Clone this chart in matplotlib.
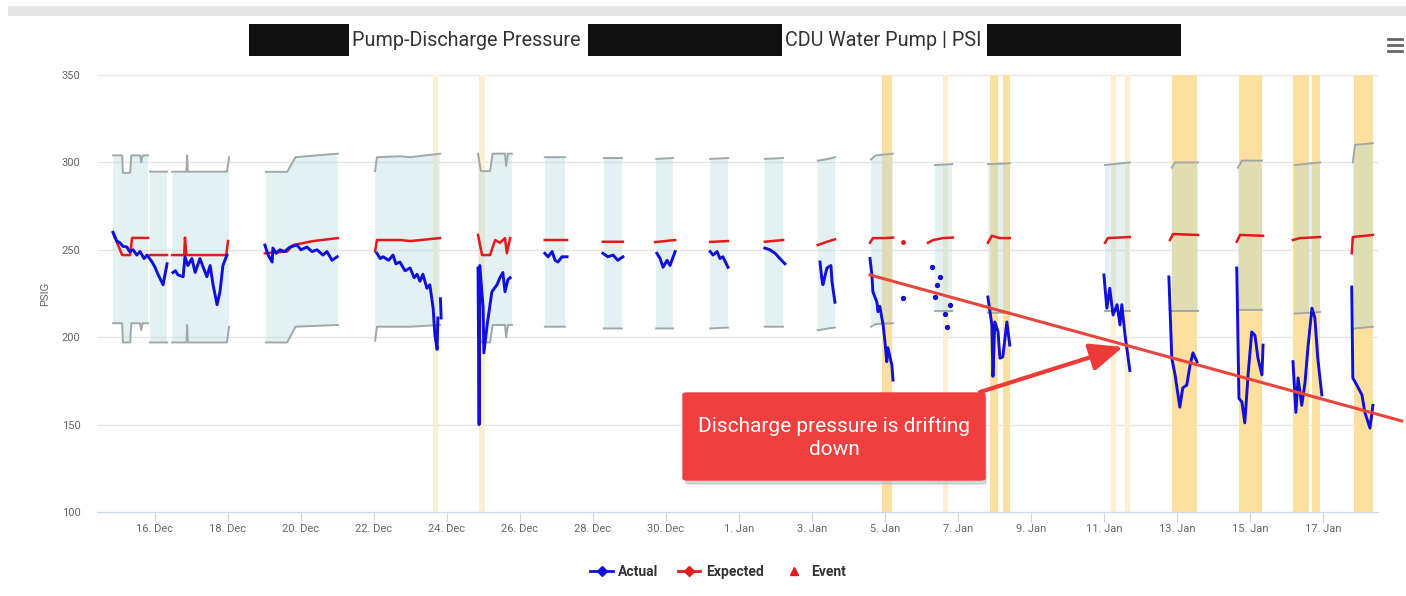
import matplotlib.pyplot as plt
import numpy as np
from matplotlib.lines import Line2D
from matplotlib.patches import Rectangle, FancyBboxPatch, FancyArrowPatch

plt.rcParams['font.family'] = ['Roboto', 'DejaVu Sans']

# time is "day of December" (32 = 1 Jan), values in PSIG
tick_days = [16, 18, 20, 22, 24, 26, 28, 30, 32, 34, 36, 38, 40, 42, 44, 46, 48]
tick_labels = ['16. Dec', '18. Dec', '20. Dec', '22. Dec', '24. Dec', '26. Dec', '28. Dec',
               '30. Dec', '1. Jan', '3. Jan', '5. Jan', '7. Jan', '9. Jan', '11. Jan',
               '13. Jan', '15. Jan', '17. Jan']

# (day, upper, lower) of the expected band
bounds = [
    [(14.85, 304, 208), (15.10, 304, 208), (15.12, 294, 197), (15.32, 294, 197), (15.35, 304, 208),
     (15.59, 304, 208), (15.62, 300, 204), (15.66, 304, 208), (15.81, 304, 208)],
    [(15.86, 294.7, 197), (16.33, 294.7, 197)],
    [(16.47, 294.7, 197), (16.86, 294.7, 197), (16.88, 304, 207), (16.90, 294.7, 197),
     (17.97, 294.7, 197), (18.03, 303, 206)],
    [(19.04, 294.6, 197), (19.62, 294.6, 197), (19.85, 303, 206), (21.01, 305, 207)],
    [(22.03, 295, 198), (22.08, 303, 206), (22.71, 303.5, 206), (23.00, 303, 206), (23.81, 305, 207)],
    [(24.85, 305, 207), (24.93, 295, 197), (25.18, 295, 197), (25.25, 305, 207), (25.59, 305, 207),
     (25.62, 298, 200), (25.67, 305, 207), (25.78, 305, 207)],
    [(26.68, 303, 206), (27.23, 303, 206)],
    [(28.30, 302.5, 205), (28.79, 302.5, 205)],
    [(29.73, 302, 205), (30.19, 302.5, 205)],
    [(31.21, 302, 205), (31.70, 302.5, 205.5)],
    [(32.71, 302, 206), (33.21, 302.5, 206)],
    [(34.16, 301, 204), (34.45, 302, 205), (34.63, 303, 205.5)],
    [(35.62, 301.7, 206), (35.75, 304, 207.5), (36.22, 305, 208)],
    [(37.37, 298.5, 215), (37.84, 299, 215)],
    [(38.82, 299, 214), (39.42, 299.5, 214)],
    [(42.03, 298.5, 215), (42.71, 300, 215)],
    [(43.86, 297, 215), (43.95, 300, 215), (44.58, 300, 215)],
    [(45.67, 297, 215.6), (45.78, 301, 215.6), (46.33, 301, 215.6)],
    [(47.23, 298.5, 213.5), (47.92, 300, 214.4)],
    [(48.82, 300, 204.7), (48.88, 310, 205), (49.37, 311, 206)],
]

expected = [
    [(14.85, 259.6), (15.10, 247), (15.32, 247), (15.37, 256.8), (15.81, 256.8)],
    [(15.86, 247), (16.33, 247)],
    [(16.47, 247), (16.80, 247), (16.82, 257), (16.86, 247), (17.95, 247), (18.00, 255)],
    [(19.01, 248), (19.62, 249), (19.78, 252.7), (20.33, 255), (21.01, 256.7)],
    [(22.03, 249), (22.08, 255.6), (22.71, 255.6), (23.00, 255), (23.81, 256.7)],
    [(24.85, 258.5), (24.96, 247), (25.18, 247), (25.32, 255.6), (25.45, 254), (25.59, 256.7),
     (25.64, 248), (25.73, 256.7)],
    [(26.68, 255.6), (27.29, 255.6)],
    [(28.27, 254.6), (28.82, 254.6)],
    [(29.70, 254.4), (30.25, 255.6)],
    [(31.21, 254.5), (31.70, 255)],
    [(32.71, 254.6), (33.21, 255.6)],
    [(34.16, 252.7), (34.41, 254.6), (34.63, 256)],
    [(35.59, 254), (35.67, 256.7), (36.00, 256.7), (36.22, 257)],
    [(37.18, 254), (37.32, 255.6), (37.59, 256.7), (37.86, 257)],
    [(38.82, 254), (38.93, 258), (39.15, 256.7), (39.42, 256.7)],
    [(42.03, 254), (42.11, 256.7), (42.71, 257.3)],
    [(43.81, 255.6), (43.89, 259), (44.58, 258.5)],
    [(45.64, 254.6), (45.73, 258.5), (46.36, 258)],
    [(47.18, 255.6), (47.37, 256.7), (47.92, 257.3)],
    [(48.79, 248), (48.82, 257.3), (49.37, 258.5)],
]
expected_dots = [(36.49, 254.6)]

actual = [
    [(14.85, 260), (14.95, 255), (15.04, 254), (15.12, 252), (15.23, 251.6), (15.30, 249), (15.40, 250),
     (15.50, 247), (15.59, 249), (15.70, 245), (15.78, 247), (15.92, 243), (16.00, 240), (16.08, 236),
     (16.22, 230), (16.33, 242)],
    [(16.49, 237), (16.56, 238), (16.63, 235.6), (16.77, 234.6), (16.82, 246), (16.90, 241), (17.01, 245),
     (17.10, 237), (17.23, 245), (17.32, 240), (17.42, 234.6), (17.51, 241), (17.59, 230),
     (17.70, 218.6), (17.78, 226), (17.86, 241), (17.97, 247)],
    [(19.01, 252.7), (19.10, 247), (19.21, 243), (19.23, 251), (19.32, 248), (19.42, 250), (19.55, 249),
     (19.70, 251.6), (19.89, 252.7), (20.00, 250), (20.16, 251.6), (20.30, 249), (20.44, 250),
     (20.60, 247), (20.71, 249), (20.85, 244), (20.99, 246)],
    [(22.08, 248), (22.17, 245), (22.25, 246), (22.40, 244), (22.52, 247), (22.60, 242), (22.71, 243),
     (22.85, 238), (22.99, 239.6), (23.10, 234), (23.18, 236), (23.26, 232), (23.34, 236),
     (23.45, 228), (23.53, 230), (23.62, 216.6), (23.67, 201), (23.73, 193), (23.75, 211)],
    [(23.82, 222), (23.84, 211)],
    [(24.85, 239.6), (24.88, 150), (24.90, 241), (24.99, 216.6), (25.01, 191), (25.10, 207),
     (25.23, 226), (25.37, 230), (25.45, 234), (25.53, 237), (25.59, 226), (25.67, 233), (25.73, 234)],
    [(26.68, 248), (26.77, 246), (26.88, 249), (26.96, 244), (27.04, 243), (27.15, 246), (27.29, 246)],
    [(28.27, 248), (28.41, 246), (28.55, 247), (28.68, 244), (28.82, 246)],
    [(29.75, 248), (29.84, 245), (29.92, 240), (30.03, 244), (30.11, 241), (30.25, 249)],
    [(31.21, 249), (31.29, 247), (31.40, 249), (31.48, 245), (31.56, 246), (31.70, 240)],
    [(32.71, 251), (32.85, 250), (32.99, 248), (33.12, 245), (33.26, 242)],
    [(34.22, 243), (34.27, 233.6), (34.30, 230), (34.41, 239.6), (34.52, 241), (34.55, 231.6), (34.63, 220)],
    [(35.59, 245), (35.64, 236), (35.67, 226), (35.78, 220), (35.81, 214.6), (35.86, 217.6),
     (35.95, 207), (36.00, 197.5), (36.05, 186), (36.08, 194), (36.19, 184), (36.22, 175.5)],
    [(38.82, 223), (38.93, 207), (38.96, 177.6), (39.01, 208.7), (39.10, 203), (39.15, 188),
     (39.23, 188.7), (39.34, 208.7), (39.42, 195.5)],
    [(42.00, 235.6), (42.08, 216.6), (42.16, 228), (42.25, 212.7), (42.36, 218.6), (42.44, 207),
     (42.49, 218.6), (42.58, 201), (42.71, 181)],
    [(43.78, 234.5), (43.86, 188), (43.95, 178.4), (44.08, 160), (44.16, 171), (44.27, 172.6),
     (44.36, 184), (44.44, 191), (44.55, 186)],
    [(45.64, 239.6), (45.70, 165), (45.78, 163), (45.86, 151), (45.95, 178.4), (46.05, 203),
     (46.14, 201), (46.22, 188), (46.33, 178.4), (46.36, 195.5)],
    [(47.18, 186), (47.26, 157), (47.32, 176.7), (47.42, 161), (47.51, 174), (47.59, 194),
     (47.70, 216.6), (47.78, 211), (47.86, 188), (47.97, 167)],
    [(48.79, 228.7), (48.82, 176.7), (48.93, 172.6), (49.07, 167), (49.15, 157), (49.29, 148), (49.37, 161)],
]
actual_dots = [(36.49, 222.5), (37.29, 240), (37.37, 223), (37.42, 230), (37.51, 234.6),
               (37.64, 213), (37.70, 206), (37.78, 218.6)]

# event windows (day start, day end)
events = [(35.92, 36.19), (38.88, 39.10), (39.23, 39.42), (43.86, 44.55), (45.70, 46.33),
          (47.18, 47.62), (47.70, 47.92), (48.85, 49.37)]
minor_events = [(23.62, 23.75), (24.88, 25.04), (37.59, 37.73), (42.19, 42.33), (42.58, 42.71)]

trend_days = [35.59, 50.16]
trend_vals = [235.6, 152.1]
arrow_from = (38.60, 168.6)
arrow_to = (42.52, 194.4)


def join(segs):
    rows = []
    for s in segs:
        rows.extend(s)
        rows.append(tuple([np.nan] * len(s[0])))
    return np.array(rows, dtype=float).T


W, H = 1406, 596
fig = plt.figure(figsize=(W / 100, H / 100), dpi=100)
ax = fig.add_axes([97 / W, 1 - 512 / H, 1281 / W, 437 / H])

for a, b in events:
    ax.axvspan(a, b, color='#fddfa0', lw=0, zorder=0.6)
for a, b in minor_events:
    ax.axvspan(a, b, color='#fdefd2', lw=0, zorder=0.6)

bt, bhi, blo = join(bounds)
ax.fill_between(bt, blo, bhi, color='#acd6dc', alpha=0.33, lw=0, zorder=1)
ax.plot(bt, bhi, color='#a0a8a8', lw=1.4, zorder=2)
ax.plot(bt, blo, color='#a0a8a8', lw=1.4, zorder=2)

et, ev = join(expected)
ax.plot(et, ev, color='#e3191c', lw=1.8, zorder=3)
ax.plot(*zip(*expected_dots), ls='none', marker='o', ms=2.5, color='#e3191c', zorder=3)

at, av = join(actual)
ax.plot(at, av, color='#1010d8', lw=2.1, zorder=4)
ax.plot(*zip(*actual_dots), ls='none', marker='o', ms=2.8, color='#1010d8', zorder=4)

ax.plot(trend_days, trend_vals, color='#e8453f', lw=2.2, zorder=6, clip_on=False)
ax.add_patch(FancyArrowPatch(arrow_from, arrow_to, arrowstyle='-|>,head_length=2.0,head_width=0.85',
                             mutation_scale=10, color='#ec3b36', lw=3, zorder=7, clip_on=False,
                             shrinkA=0, shrinkB=0))

ax.set_xlim(14.41, 49.51)
ax.set_ylim(100, 350)
ax.set_yticks(np.arange(100, 351, 50))
ax.set_xticks(tick_days)
ax.set_xticklabels(tick_labels)
ax.grid(axis='y', color='#e6e6e6', lw=1)
ax.set_axisbelow(True)
for s in ['top', 'right', 'left']:
    ax.spines[s].set_visible(False)
ax.spines['bottom'].set_color('#ccd6eb')
ax.tick_params(axis='x', length=7, color='#ccd6eb', labelsize=8, labelcolor='#666666', pad=2)
ax.tick_params(axis='y', length=0, labelsize=8, labelcolor='#666666', pad=12)
ax.set_ylabel('PSIG', fontsize=8, color='#666666', labelpad=8)

# annotation box
shadow = FancyBboxPatch((686 / W, 1 - 484 / H), 300 / W, 87 / H, boxstyle='round,pad=0,rounding_size=0.003',
                        transform=fig.transFigure, color='#bbbbbb', alpha=0.6, zorder=8)
box = FancyBboxPatch((683 / W, 1 - 480 / H), 302 / W, 87 / H, boxstyle='round,pad=0,rounding_size=0.003',
                     transform=fig.transFigure, color='#ef3f3f', zorder=9)
fig.add_artist(shadow)
fig.add_artist(box)
fig.text(834 / W, 1 - 438 / H, 'Discharge pressure is drifting\ndown', ha='center', va='center',
         color='white', fontsize=15, linespacing=1.25, zorder=10)

# header
fig.add_artist(Rectangle((8 / W, 1 - 16 / H), (W - 8) / W, 10 / H, transform=fig.transFigure,
                         color='#e6e6e6', lw=0))
for x0, w in [(249, 100), (588, 194), (987, 194)]:
    fig.add_artist(Rectangle((x0 / W, 1 - 56 / H), w / W, 32 / H, transform=fig.transFigure,
                             color='#111111', lw=0))
fig.text(352 / W, 1 - 40 / H, 'Pump-Discharge Pressure', ha='left', va='center', fontsize=14.2, color='#333333')
fig.text(785 / W, 1 - 40 / H, 'CDU Water Pump | PSI', ha='left', va='center', fontsize=14.2, color='#333333')
for y in [39, 45, 51]:
    fig.add_artist(Line2D([1388 / W, 1402 / W], [1 - y / H, 1 - y / H], transform=fig.transFigure,
                          color='#666666', lw=2))

handles = [Line2D([], [], color='#1010d8', lw=2, marker='D', ms=5),
           Line2D([], [], color='#e3191c', lw=2, marker='D', ms=5),
           Line2D([], [], color='#e3191c', ls='none', marker='^', ms=6)]
fig.legend(handles, ['Actual', 'Expected', 'Event'], loc='center', bbox_to_anchor=(718 / W, 1 - 572 / H),
           ncol=3, frameon=False, handlelength=1.6, columnspacing=1.4, handletextpad=0.4,
           prop={'size': 10, 'weight': 'bold'}, labelcolor='#333333')

fig.savefig('out.png', dpi=100)
